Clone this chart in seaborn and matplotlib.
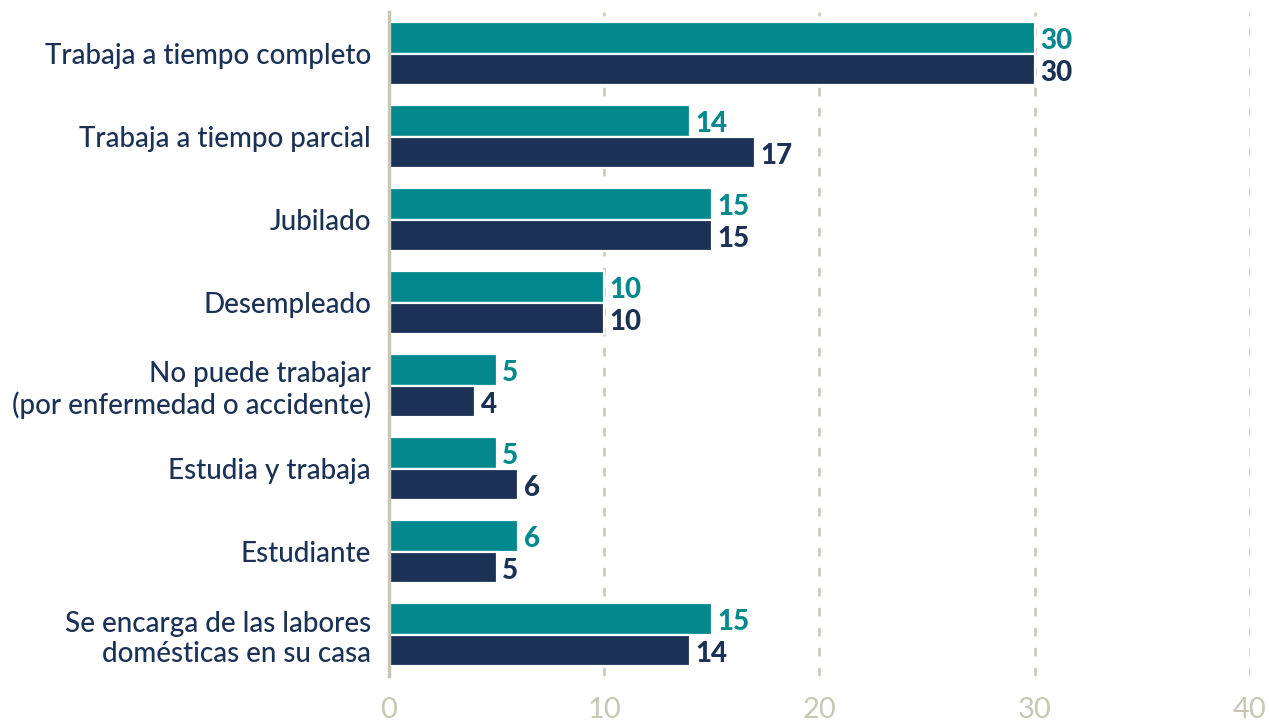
import pandas as pd
import seaborn as sns
import matplotlib.pyplot as plt

# Data
categorias = [
    'Trabaja a tiempo completo',
    'Trabaja a tiempo parcial',
    'Jubilado',
    'Desempleado',
    'No puede trabajar\n(por enfermedad o accidente)',
    'Estudia y trabaja',
    'Estudiante',
    'Se encarga de las labores\ndomésticas en su casa',
]
serie_a = [30, 14, 15, 10, 5, 5, 6, 15]
serie_b = [30, 17, 15, 10, 4, 6, 5, 14]
series = ['Serie A', 'Serie B']
colores = ['#03898D', '#1B3155']
x_ticks = [0, 10, 20, 30, 40]

sns.set_style('white')
plt.rcParams['font.family'] = ['Lato', 'DejaVu Sans']

df = pd.DataFrame({
    'categoria': categorias * 2,
    'valor': serie_a + serie_b,
    'serie': [series[0]] * len(categorias) + [series[1]] * len(categorias),
})

fig = plt.figure(figsize=(12.69, 7.21), dpi=100)
ax = fig.add_axes([0.3065, 0.0624, 0.6785, 0.9206])

sns.barplot(data=df, y='categoria', x='valor', hue='serie', palette=colores,
            orient='h', width=0.76, edgecolor='white', linewidth=1.6,
            saturation=1, legend=False, ax=ax)

ax.set_xlim(0, 40)
ax.set_ylim(7.5, -0.5)
ax.set_xticks(x_ticks)
ax.set_xlabel('')
ax.set_ylabel('')

tick_col = '#C9C6B6'
ax.tick_params(axis='x', colors=tick_col, labelsize=21, length=0, pad=15)
ax.tick_params(axis='y', colors='#1B3155', labelsize=20, length=0, pad=13)
for lbl in ax.get_yticklabels():
    lbl.set_color('#1B3155')
    lbl.set_fontweight('medium')

for s in ['top', 'right', 'bottom']:
    ax.spines[s].set_visible(False)
ax.spines['left'].set_color(tick_col)
ax.spines['left'].set_linewidth(2.5)

for xv in x_ticks[1:]:
    ax.axvline(xv, color=tick_col, linestyle=(0, (3.5, 4.5)), linewidth=1.8, zorder=0)

for cont, col in zip(ax.containers, colores):
    txts = ax.bar_label(cont, labels=[str(int(v)) for v in cont.datavalues], padding=4,
                        color=col, fontsize=20, fontweight='black')
    for t in txts:
        t.xyann = (4, -2.5)

fig.savefig('out.png', dpi=100)
